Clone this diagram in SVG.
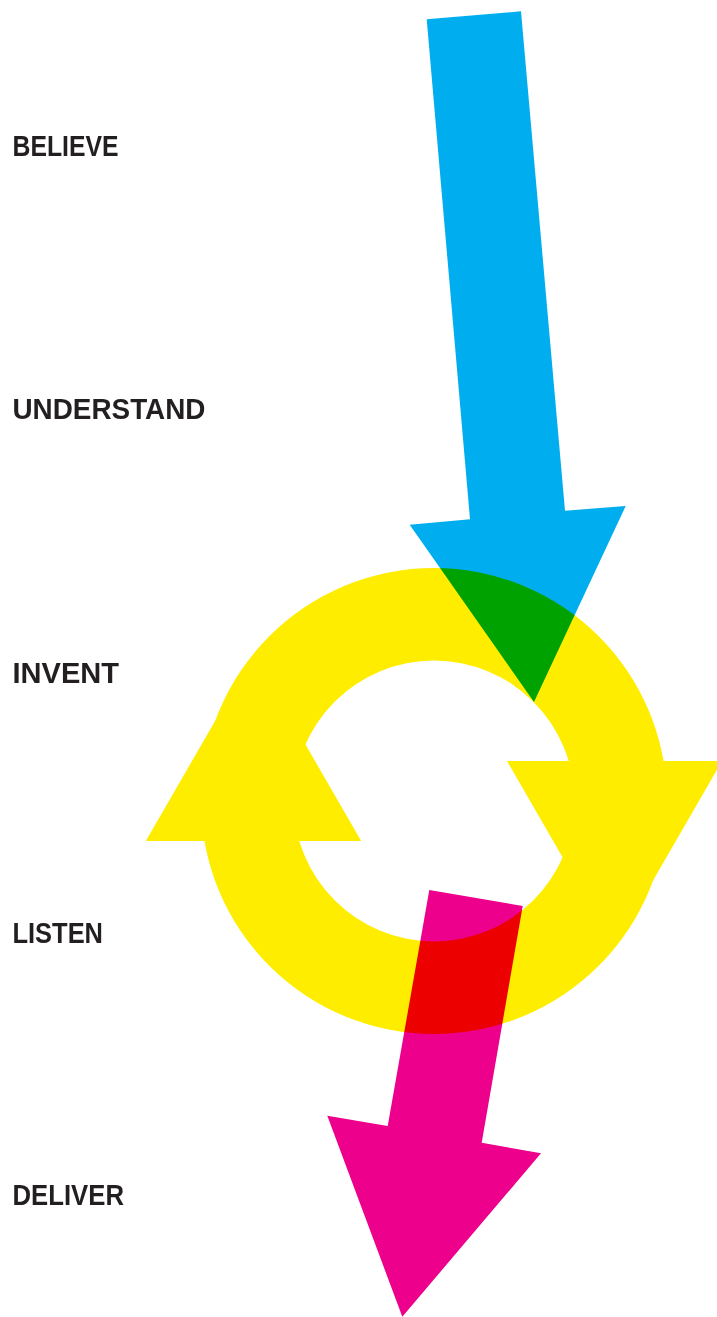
<svg xmlns="http://www.w3.org/2000/svg" width="717" height="1317" viewBox="0 0 717 1317">
  <style>
    .lbl { font-family: "Liberation Sans", Arial, sans-serif; font-weight: bold; font-size: 29px; fill: #231F20; }
    .mul { mix-blend-mode: multiply; }
    .cyan { fill: #00AEEF; }
    .yellow { fill: #FFED00; }
    .magenta { fill: #EC008C; }
  </style>
  <rect width="717" height="1317" fill="#FFFFFF"/>
  <g id="labels">
    <g id="believe"><text class="lbl" x="12.5" y="156" textLength="106" lengthAdjust="spacingAndGlyphs">BELIEVE</text></g>
    <g id="understand"><text class="lbl" x="12.5" y="419" textLength="193" lengthAdjust="spacingAndGlyphs">UNDERSTAND</text></g>
    <g id="invent"><text class="lbl" x="12.5" y="682.5" textLength="106.5" lengthAdjust="spacingAndGlyphs">INVENT</text></g>
    <g id="listen"><text class="lbl" x="12.5" y="943" textLength="90.5" lengthAdjust="spacingAndGlyphs">LISTEN</text></g>
    <g id="deliver"><text class="lbl" x="12.5" y="1205" textLength="111.5" lengthAdjust="spacingAndGlyphs">DELIVER</text></g>
  </g>
  <g id="connectors" style="isolation:isolate">
    <g id="cycle" class="mul yellow">
      <path fill-rule="evenodd" d="M434,568 A233,233 0 1,1 434,1034 A233,233 0 1,1 434,568 Z M434,660.5 A140.5,140.5 0 1,0 434,941.5 A140.5,140.5 0 1,0 434,660.5 Z"/>
      <polygon points="145.8,841 361.2,841 253.5,654.5"/>
      <polygon points="507,761 722,761 614.5,947.2"/>
    </g>
    <polygon id="believe-arrow" class="mul cyan" points="426.7,19.3 521,11.3 565,510.7 625.7,506 534,702 409.7,524.7 470,519.3"/>
    <polygon id="deliver-arrow" class="mul magenta" points="429.3,890 522.7,906 481.7,1142.7 541,1153.3 402.3,1316.7 327.3,1115.7 387.7,1126"/>
  </g>
</svg>
